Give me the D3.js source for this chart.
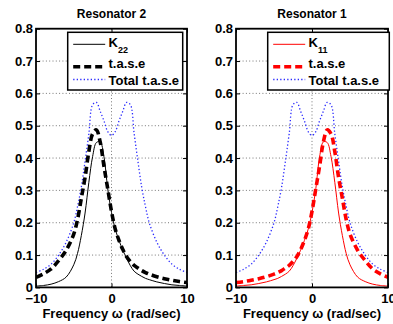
<!DOCTYPE html>
<html>
<head>
<meta charset="utf-8">
<script src="https://cdn.jsdelivr.net/npm/d3@7"></script>
<style>
  body { margin: 0; background: #fff; }
  svg { display: block; }
  text { font-family: "Liberation Sans", Arial, sans-serif; font-weight: bold; }
</style>
</head>
<body>
<svg id="chart" width="393" height="324"></svg>
<script>
// frequency grid (rad/sec) and curves
const omega = [-10, -9, -8, -7, -6, -5, -4.5, -4, -3.5, -3, -2.5, -2, -1.5, -1, -0.5, 0,
  0.5, 1, 1.5, 2, 2.5, 3, 3.5, 4, 4.5, 5, 6, 7, 8, 9, 10];

const k22 = [0.004, 0.006, 0.010, 0.018, 0.032, 0.07, 0.105, 0.16, 0.23, 0.325, 0.405, 0.448, 0.45, 0.404, 0.305, 0.232,
  0.18, 0.145, 0.115, 0.09, 0.067, 0.05, 0.041, 0.034, 0.028, 0.024, 0.017, 0.012, 0.008, 0.006, 0.004];
const tase2 = [0.031, 0.042, 0.057, 0.083, 0.115, 0.165, 0.21, 0.275, 0.34, 0.42, 0.475, 0.487, 0.45, 0.375, 0.305, 0.235,
  0.18, 0.145, 0.117, 0.095, 0.08, 0.068, 0.06, 0.052, 0.046, 0.041, 0.033, 0.027, 0.022, 0.018, 0.015];

const k11 = [0.004, 0.006, 0.008, 0.012, 0.017, 0.024, 0.028, 0.034, 0.041, 0.05, 0.067, 0.09, 0.115, 0.145, 0.18, 0.232,
  0.305, 0.404, 0.45, 0.448, 0.405, 0.325, 0.23, 0.16, 0.105, 0.07, 0.032, 0.018, 0.010, 0.006, 0.004];
const tase1 = [0.015, 0.018, 0.022, 0.027, 0.033, 0.041, 0.046, 0.052, 0.06, 0.068, 0.08, 0.095, 0.117, 0.145, 0.18, 0.235,
  0.305, 0.375, 0.45, 0.487, 0.475, 0.42, 0.34, 0.275, 0.21, 0.165, 0.115, 0.083, 0.057, 0.042, 0.031];

const totalTase = [0.046, 0.056, 0.072, 0.1, 0.14, 0.2, 0.25, 0.31, 0.39, 0.475, 0.565, 0.572, 0.545, 0.515, 0.482, 0.47,
  0.482, 0.515, 0.545, 0.572, 0.565, 0.475, 0.39, 0.31, 0.25, 0.2, 0.14, 0.1, 0.072, 0.056, 0.046];

const yTicks = [0, 0.1, 0.2, 0.3, 0.4, 0.5, 0.6, 0.7, 0.8];
const xTicks = [-10, 0, 10];

const panels = [
  {id: "r2", title: "Resonator 2", left: 36, right: 187, color: "#000", k: k22, sub: "22", tase: tase2, legendX: 67.7, legendW: 115},
  {id: "r1", title: "Resonator 1", left: 236, right: 388, color: "#ff0000", k: k11, sub: "11", tase: tase1, legendX: 267.7, legendW: 121.6}
];

const plotTop = 28.7, plotBottom = 287.4;
const totalColor = "#2a2aff";
const svg = d3.select("#chart");

const y = d3.scaleLinear().domain([0, 0.8]).range([plotBottom, plotTop]);
const fmtY = d => (d === 0 ? "0" : d3.format(".1f")(d));

function styleAxis(g) {
  g.select(".domain").remove();
  g.selectAll("line").attr("stroke", "#000").attr("stroke-width", 1);
  g.selectAll("text").attr("font-size", 13).attr("font-family", null).attr("fill", "#000");
}

panels.forEach(p => {
  const x = d3.scaleLinear().domain([-10, 10]).range([p.left, p.right]);
  const g = svg.append("g").attr("id", p.id);

  g.append("clipPath").attr("id", "clip-" + p.id)
    .append("rect").attr("x", p.left).attr("y", plotTop).attr("width", p.right - p.left).attr("height", plotBottom - plotTop);

  // grid
  const grid = g.append("g").attr("stroke", "#777").attr("stroke-width", 1).attr("stroke-dasharray", "1,2.3");
  grid.selectAll("line.h").data(yTicks.slice(1, -1)).enter().append("line")
    .attr("x1", p.left).attr("x2", p.right).attr("y1", d => y(d)).attr("y2", d => y(d));
  grid.selectAll("line.v").data(xTicks.slice(1, -1)).enter().append("line")
    .attr("y1", plotTop).attr("y2", plotBottom).attr("x1", d => x(d)).attr("x2", d => x(d));

  // curves
  const line = d3.line().x((d, i) => x(omega[i])).y(d => y(d)).curve(d3.curveCatmullRom.alpha(0.5));
  const curves = g.append("g").attr("clip-path", `url(#clip-${p.id})`).attr("fill", "none");
  curves.append("path").attr("d", line(totalTase))
    .attr("stroke", totalColor).attr("stroke-width", 1.3).attr("stroke-dasharray", "1.3,2.2");
  curves.append("path").attr("d", line(p.k))
    .attr("stroke", p.color).attr("stroke-width", 1);
  curves.append("path").attr("d", line(p.tase))
    .attr("stroke", p.color).attr("stroke-width", 3.6).attr("stroke-dasharray", "7,4");

  // axes with inward ticks on all four sides
  g.append("g").attr("transform", `translate(${p.left},0)`)
    .call(d3.axisLeft(y).tickValues(yTicks).tickFormat(fmtY).tickSize(-4).tickPadding(3)).call(styleAxis);
  g.append("g").attr("transform", `translate(${p.right},0)`)
    .call(d3.axisRight(y).tickValues(yTicks).tickFormat("").tickSize(-4)).call(styleAxis);
  g.append("g").attr("transform", `translate(0,${plotBottom})`)
    .call(d3.axisBottom(x).tickValues(xTicks).tickSize(-4).tickPadding(6.5)).call(styleAxis);
  g.append("g").attr("transform", `translate(0,${plotTop})`)
    .call(d3.axisTop(x).tickValues(xTicks).tickFormat("").tickSize(-4)).call(styleAxis);

  g.append("rect").attr("x", p.left).attr("y", plotTop).attr("width", p.right - p.left).attr("height", plotBottom - plotTop)
    .attr("fill", "none").attr("stroke", "#000").attr("stroke-width", 1.8);

  const cx = (p.left + p.right) / 2;
  g.append("text").attr("x", cx).attr("y", 17.5).attr("text-anchor", "middle").attr("font-size", 12).text(p.title);
  g.append("text").attr("x", cx).attr("y", 317.5).attr("text-anchor", "middle").attr("font-size", 13)
    .text("Frequency \u03c9 (rad/sec)");

  // legend
  const lg = g.append("g");
  lg.append("rect").attr("x", p.legendX).attr("y", 32.3).attr("width", p.legendW).attr("height", 57.7)
    .attr("fill", "#fff").attr("stroke", "#000").attr("stroke-width", 1.5);
  const sx0 = p.legendX + 5.5, sx1 = p.legendX + 37.5, tx = p.legendX + 40.8;
  lg.append("line").attr("x1", sx0).attr("x2", sx1).attr("y1", 44.3).attr("y2", 44.3)
    .attr("stroke", p.color).attr("stroke-width", 1);
  lg.append("line").attr("x1", sx0).attr("x2", sx1).attr("y1", 66.8).attr("y2", 66.8)
    .attr("stroke", p.color).attr("stroke-width", 3.6).attr("stroke-dasharray", "7,4");
  lg.append("line").attr("x1", sx0).attr("x2", sx1).attr("y1", 79.5).attr("y2", 79.5)
    .attr("stroke", totalColor).attr("stroke-width", 1.3).attr("stroke-dasharray", "1.3,2.2");
  const kt = lg.append("text").attr("x", tx).attr("y", 46.7).attr("font-size", 13);
  kt.append("tspan").text("K");
  kt.append("tspan").attr("font-size", 9).attr("dy", 6).text(p.sub);
  lg.append("text").attr("x", tx).attr("y", 68.3).attr("font-size", 13).text("t.a.s.e");
  lg.append("text").attr("x", tx).attr("y", 85).attr("font-size", 13).text("Total t.a.s.e");
});
</script>
</body>
</html>
